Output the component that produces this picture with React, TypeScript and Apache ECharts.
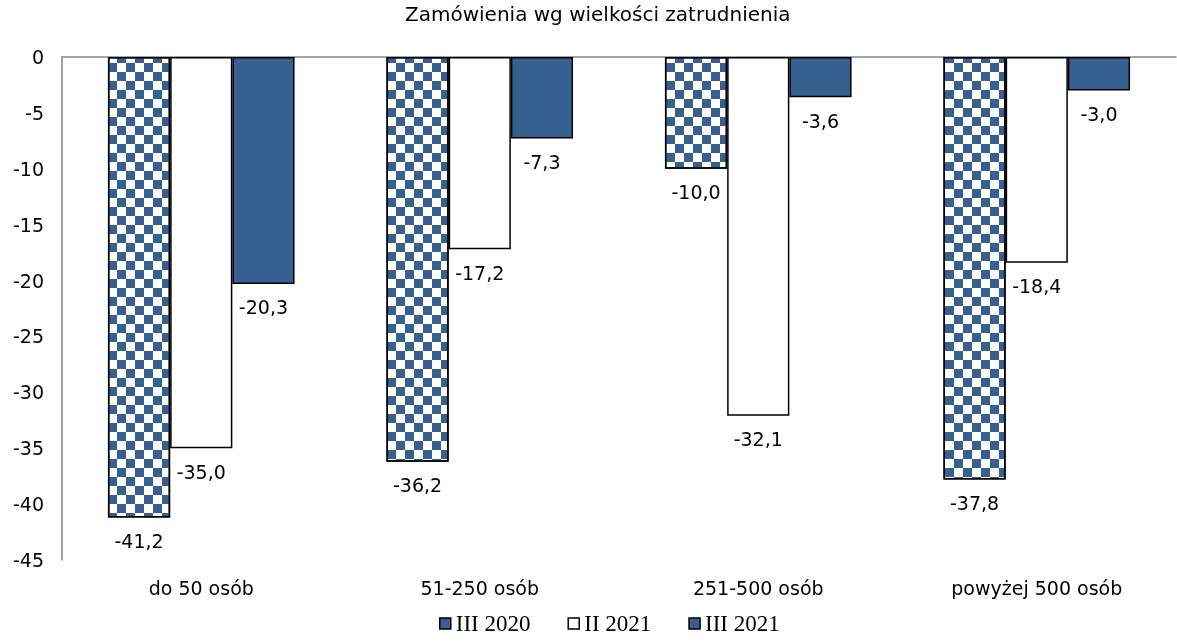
import React, { useEffect, useRef } from "react";
import * as echarts from "echarts";

const categories = ["do 50 osób", "51-250 osób", "251-500 osób", "powyżej 500 osób"];
const seriesNames = ["III 2020", "II 2021", "III 2021"];
const valuesIII2020 = [-41.2, -36.2, -10.0, -37.8];
const valuesII2021 = [-35.0, -17.2, -32.1, -18.4];
const valuesIII2021 = [-20.3, -7.3, -3.6, -3.0];
const yTicks = { min: -45, max: 0, interval: 5 };

const BLUE = "#36608f";
const FONT = "DejaVu Sans";
const SQ = 9;

const fmt = (v: number) => v.toFixed(1).replace(".", ",");

export default function App() {
  const ref = useRef<HTMLDivElement>(null);
  useEffect(() => {
    if (!ref.current) return;
    const chart = echarts.init(ref.current, undefined, { renderer: "svg" });
    const label = {
      show: true,
      position: "bottom" as const,
      distance: 14,
      fontFamily: FONT,
      fontSize: 19,
      color: "#000",
      formatter: (p: any) => fmt(p.value),
    };
    const border = { borderColor: "#000", borderWidth: 1.5 };
    const legendIcon = { borderColor: "#000", borderWidth: 1.5, decal: "none" };
    chart.setOption({
      animation: false,
      aria: { enabled: false, decal: { show: true } },
      title: {
        text: "Zamówienia wg wielkości zatrudnienia",
        left: 405,
        top: 4,
        padding: 0,
        textStyle: { fontFamily: FONT, fontSize: 20, fontWeight: "normal", color: "#000" },
      },
      legend: {
        top: 612,
        left: 439,
        itemWidth: 11,
        itemHeight: 11,
        itemGap: 37,
        padding: 0,
        textStyle: { fontFamily: "Liberation Serif", fontSize: 23, color: "#000" },
        data: [
          { name: seriesNames[0], icon: "rect", itemStyle: { color: BLUE, ...legendIcon } },
          { name: seriesNames[1], icon: "rect", itemStyle: { color: "#fff", ...legendIcon } },
          { name: seriesNames[2], icon: "rect", itemStyle: { color: BLUE, ...legendIcon } },
        ],
      },
      grid: { left: 62, right: 1, top: 57, height: 503 },
      xAxis: [
        {
          type: "category",
          data: categories,
          position: "bottom",
          axisLine: { show: false, onZero: false },
          axisTick: { show: false },
          axisLabel: { fontFamily: FONT, fontSize: 19, color: "#000", margin: 18 },
        },
        {
          type: "category",
          data: categories,
          position: "top",
          axisLine: { show: true, onZero: false, lineStyle: { color: "#868686", width: 1.5 } },
          axisTick: { show: false },
          axisLabel: { show: false },
        },
      ],
      yAxis: {
        type: "value",
        min: yTicks.min,
        max: yTicks.max,
        interval: yTicks.interval,
        axisLine: { show: true, lineStyle: { color: "#868686", width: 1.5 } },
        axisTick: { show: false },
        splitLine: { show: false },
        axisLabel: { fontFamily: FONT, fontSize: 19, color: "#000", margin: 18 },
      },
      series: [
        {
          name: seriesNames[0],
          type: "bar",
          data: valuesIII2020,
          barGap: "0%",
          barCategoryGap: "33%",
          itemStyle: {
            color: "#fff",
            ...border,
            decal: {
              symbol: "rect",
              symbolSize: 1,
              color: BLUE,
              backgroundColor: "#fff",
              dashArrayX: [
                [SQ, SQ],
                [0, SQ, SQ, 0],
              ],
              dashArrayY: [SQ, 0],
              rotation: 0,
            },
          },
          label,
        },
        {
          name: seriesNames[1],
          type: "bar",
          data: valuesII2021,
          barGap: "0%",
          barCategoryGap: "33%",
          itemStyle: { color: "#fff", ...border, decal: "none" },
          label,
        },
        {
          name: seriesNames[2],
          type: "bar",
          data: valuesIII2021,
          barGap: "0%",
          barCategoryGap: "33%",
          itemStyle: { color: BLUE, ...border, decal: "none" },
          label,
        },
      ],
    });
    return () => chart.dispose();
  }, []);
  return <div ref={ref} style={{ position: "fixed", left: 0, top: 0, width: 1177, height: 642 }} />;
}
